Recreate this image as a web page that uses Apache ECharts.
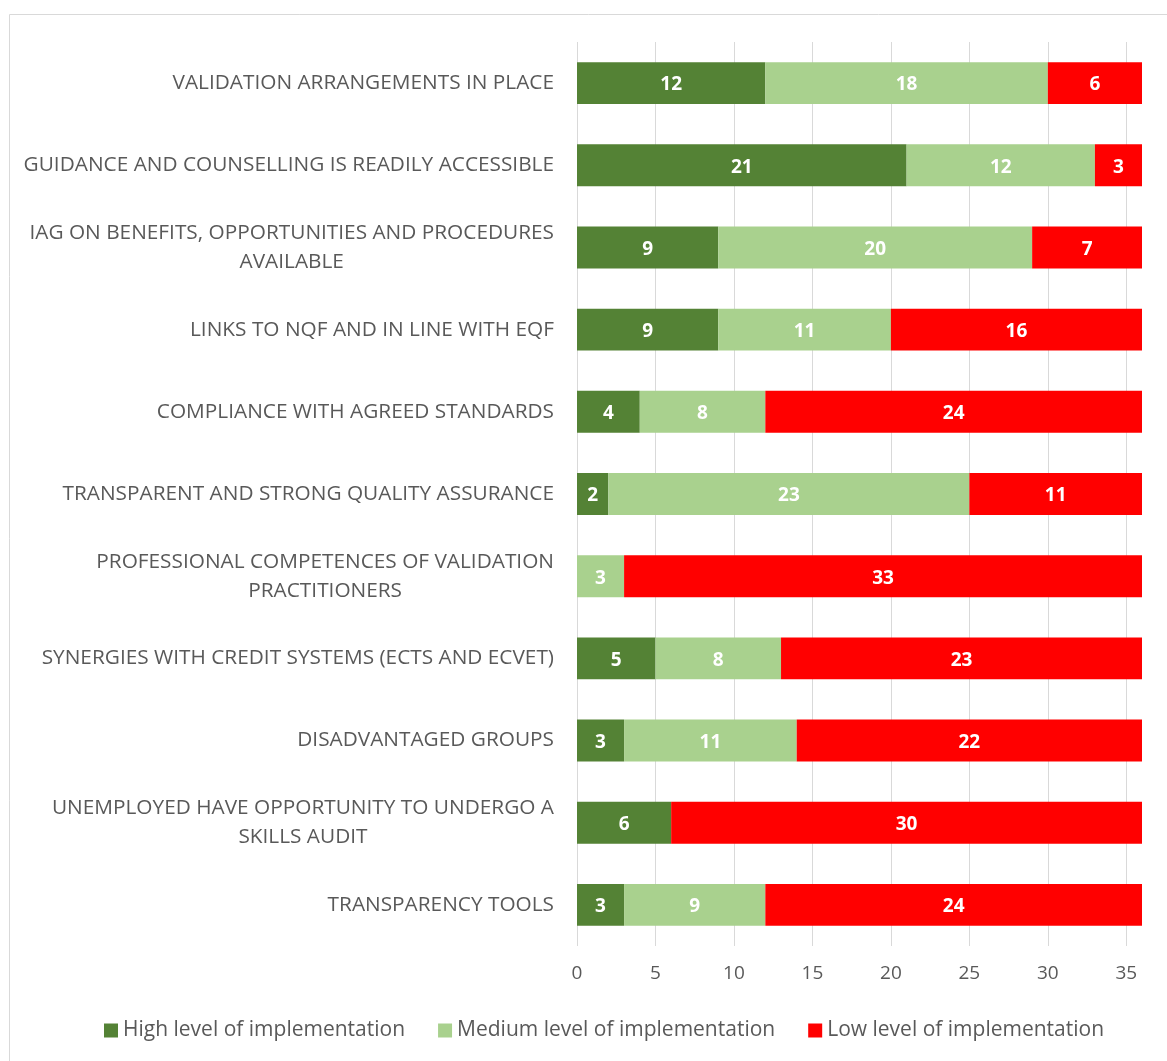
<!DOCTYPE html>
<html>
<head>
<meta charset="utf-8">
<title>Implementation levels</title>
<script src="https://cdn.jsdelivr.net/npm/echarts@6/dist/echarts.min.js"></script>
<style>
  html, body { margin: 0; padding: 0; background: #fff; }
  #chart { width: 1167px; height: 1061px; }
</style>
</head>
<body>
<div id="chart"></div>
<script>
// categories, top to bottom
var categories = [
  'VALIDATION ARRANGEMENTS IN PLACE',
  'GUIDANCE AND COUNSELLING IS READILY ACCESSIBLE',
  'IAG ON BENEFITS, OPPORTUNITIES AND PROCEDURES\nAVAILABLE',
  'LINKS TO NQF AND IN LINE WITH EQF',
  'COMPLIANCE WITH AGREED STANDARDS',
  'TRANSPARENT AND STRONG QUALITY ASSURANCE',
  'PROFESSIONAL COMPETENCES OF VALIDATION\nPRACTITIONERS',
  'SYNERGIES WITH CREDIT SYSTEMS (ECTS AND ECVET)',
  'DISADVANTAGED GROUPS',
  'UNEMPLOYED HAVE OPPORTUNITY TO UNDERGO A\nSKILLS AUDIT',
  'TRANSPARENCY TOOLS'
]
var high = [12, 21, 9, 9, 4, 2, 0, 5, 3, 6, 3]
var medium = [18, 12, 20, 11, 8, 23, 3, 8, 11, 0, 9]
var low = [6, 3, 7, 16, 24, 11, 33, 23, 22, 30, 24]
var seriesNames = ['High level of implementation', 'Medium level of implementation', 'Low level of implementation']
var colors = ['#548235', '#A9D18E', '#FF0000']

var textColor = '#595959'
var gridColor = '#d9d9d9'
var font = '"Open Sans", "Noto Sans", sans-serif'

var chart = echarts.init(document.getElementById('chart'))

function makeSeries(name, data, color) {
  return {
    name: name,
    type: 'bar',
    stack: 'total',
    data: data,
    barCategoryGap: '49%',
    itemStyle: { color: color },
    label: {
      show: true,
      position: 'inside',
      offset: [0, 2],
      color: '#fff',
      fontFamily: font,
      fontWeight: 'bold',
      fontSize: 19,
      formatter: function (p) { return p.value ? p.value : '' }
    }
  }
}

chart.setOption({
  animation: false,
  textStyle: { fontFamily: font },
  graphic: [{
    type: 'rect',
    shape: { x: 9.5, y: 14.5, width: 1200, height: 1100 },
    style: { fill: 'none', stroke: gridColor, lineWidth: 1 },
    silent: true
  }],
  grid: { left: 577, right: 25, top: 42, bottom: 115 },
  legend: {
    bottom: 15,
    left: 99,
    itemWidth: 14,
    itemHeight: 14,
    itemGap: 33,
    icon: 'rect',
    textStyle: { color: textColor, fontSize: 21, fontFamily: font },
    data: seriesNames
  },
  xAxis: {
    type: 'value',
    min: 0,
    max: 36,
    interval: 5,
    axisLine: { show: false },
    axisTick: { show: false },
    axisLabel: {
      color: textColor,
      fontSize: 19,
      margin: 18,
      fontFamily: font,
      showMaxLabel: false
    },
    splitLine: {
      lineStyle: {
        color: [gridColor, gridColor, gridColor, gridColor, gridColor, gridColor, gridColor, gridColor, 'rgba(0,0,0,0)'],
        width: 1
      }
    }
  },
  yAxis: {
    type: 'category',
    inverse: true,
    data: categories,
    axisLine: { show: false },
    axisTick: { show: false },
    axisLabel: {
      margin: 23,
      color: textColor,
      fontSize: 20.8,
      lineHeight: 29,
      fontFamily: font,
      formatter: function (v) {
        return v.split('\n').map(function (s) { return '{c|' + s + '}' }).join('\n')
      },
      rich: {
        c: { align: 'center', color: textColor, fontSize: 20.8, lineHeight: 29, fontFamily: font }
      }
    }
  },
  series: [
    makeSeries(seriesNames[0], high, colors[0]),
    makeSeries(seriesNames[1], medium, colors[1]),
    makeSeries(seriesNames[2], low, colors[2])
  ]
})
</script>
</body>
</html>
